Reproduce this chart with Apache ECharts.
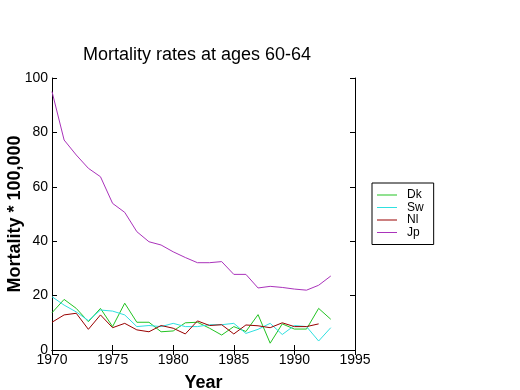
<!DOCTYPE html>
<html><head><meta charset="utf-8">
<script src="https://cdn.jsdelivr.net/npm/echarts@6/dist/echarts.min.js"></script>
<style>html,body{margin:0;padding:0;background:#fff}#c{width:520px;height:390px}</style>
</head><body><div id="c"></div>
<script>
const years = [1970,1971,1972,1973,1974,1975,1976,1977,1978,1979,1980,1981,1982,1983,1984,1985,1986,1987,1988,1989,1990,1991,1992,1993];
const dk = [13.7,18.6,15.3,10.4,15.3,8.6,17.2,10.2,10.2,6.7,7.0,10.0,10.2,8.0,5.5,8.6,6.8,13.0,2.5,9.6,7.7,7.7,15.3,11.3];
const sw = [19.6,16.5,14.0,10.8,14.7,14.3,12.9,8.6,9.0,8.6,9.8,8.6,8.6,9.3,9.3,9.8,6.1,7.6,9.8,5.7,9.0,8.6,3.3,8.2];
const nl = [10.2,12.9,13.5,7.6,12.9,8.2,9.8,7.4,6.7,9.0,8.0,5.9,10.7,9.0,9.3,5.9,9.2,8.9,8.2,10.0,8.6,8.6,9.6];
const jp = [95.0,77.2,71.7,66.8,63.7,53.9,50.6,43.5,39.8,38.6,36.1,34.0,32.1,32.1,32.5,27.8,27.8,22.8,23.4,23.0,22.4,22.0,23.8,27.2];
const xTicks = [1970,1975,1980,1985,1990,1995];
const yTicks = [0,20,40,60,80,100];
const names = ['Dk','Sw','Nl','Jp'];
const colors = ['#22c322','#2fe0e0','#990000','#aa33bb'];

function pairs(v){ return v.map((y,i)=>[years[i],y]); }
const font = 'Liberation Sans, Arial, sans-serif';
const chart = echarts.init(document.getElementById('c'), null, {renderer:'canvas'});
const axisLine = {show:true, lineStyle:{color:'#000', width:1}};
const tick = {show:true, inside:true, length:5, lineStyle:{color:'#000'}};
chart.setOption({
  animation:false,
  backgroundColor:'#fff',
  title:{text:'Mortality rates at ages 60-64', left:78, top:41,
    textStyle:{fontFamily:font, fontSize:18, fontWeight:'normal', color:'#000'}},
  grid:{left:52, top:78, right:165, bottom:40, containLabel:false, outerBoundsMode:'none'},
  legend:{orient:'vertical', left:372, top:183,
    data:names.map((n,i)=>({name:n, icon:'rect', itemStyle:{color:colors[i], borderWidth:0}})),
    borderColor:'#000', borderWidth:1, borderRadius:0,
    padding:[6,10,6,5], itemGap:0.5, itemWidth:20, itemHeight:1,
    textStyle:{fontFamily:font, fontSize:12, color:'#000', padding:[0,0,0,5], lineHeight:12}},
  xAxis:[{type:'value', min:1970, max:1995, interval:5,
    name:'Year', nameLocation:'middle', nameGap:24, nameMoveOverlap:false,
    nameTextStyle:{fontFamily:font, fontSize:18, fontWeight:'bold', color:'#000'},
    axisLine, axisTick:tick, splitLine:{show:false},
    axisLabel:{color:'#000', fontFamily:font, fontSize:14, margin:3,
      formatter:v=>xTicks.includes(v)?String(v):''}},
    {type:'value', position:'top', min:1970, max:1995, interval:5,
    axisLine, axisTick:tick, axisLabel:{show:false}, splitLine:{show:false}}],
  yAxis:[{type:'value', min:0, max:100, interval:20,
    name:'Mortality * 100,000', nameLocation:'middle', nameGap:28, nameMoveOverlap:false,
    nameTextStyle:{fontFamily:font, fontSize:18, fontWeight:'bold', color:'#000'},
    axisLine, axisTick:tick, splitLine:{show:false},
    axisLabel:{color:'#000', fontFamily:font, fontSize:14, margin:4,
      formatter:v=>yTicks.includes(v)?String(v):''}},
    {type:'value', position:'right', min:0, max:100, interval:20,
    axisLine, axisTick:tick, axisLabel:{show:false}, splitLine:{show:false}}],
  series:[dk,sw,nl,jp].map((d,i)=>({
    name:names[i], type:'line', data:pairs(d), symbol:'none', color:colors[i],
    lineStyle:{color:colors[i], width:1}, itemStyle:{color:colors[i]}
  }))
});
</script></body></html>
